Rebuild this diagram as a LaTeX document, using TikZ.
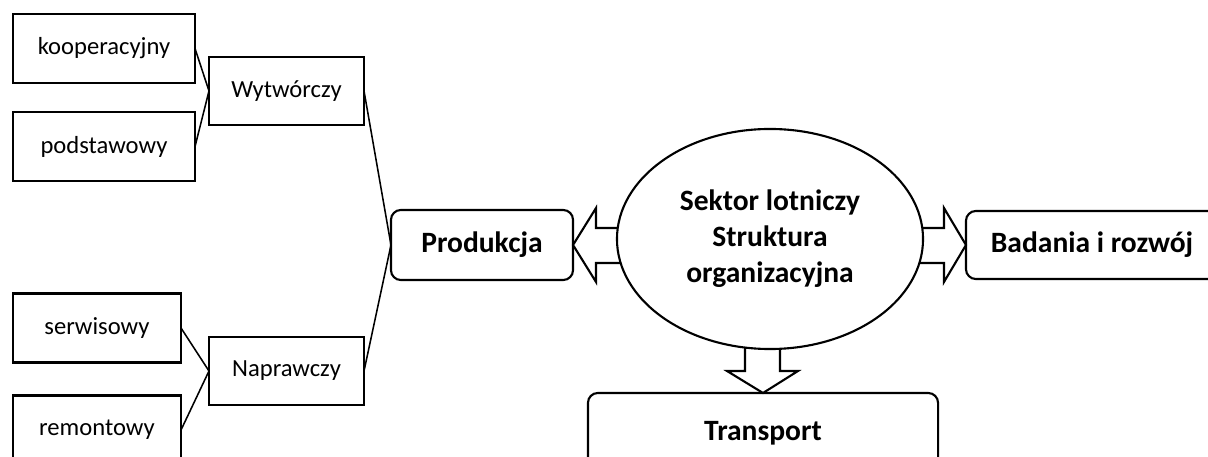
\documentclass[tikz,border=0pt]{standalone}
\usepackage{fontspec}
\setmainfont{Carlito}
\usetikzlibrary{positioning, arrows, shapes.geometric}
\tikzset{
leaf/.style={
  draw, 
  rectangle, 
  line width=1.5pt, outer sep=0pt,
  minimum height=1.725cm, 
  minimum width=4.55cm, align=center,
  font=\fontsize{17.5}{21}\selectfont
  }, 
mid/.style={leaf, minimum width=3.875cm, minimum height=1.7cm},
sector/.style={
  draw, rounded corners=7pt,
  line width=1.5pt, outer sep=0pt,
  minimum height=1.75cm, align=center,
  font=\fontsize{21}{25.6}\selectfont\bfseries
  },
core/.style={
  draw, ellipse, fill=white,
  line width=1.5pt, inner sep=0pt,
  minimum width=7.65cm, minimum height=5.5cm, align=center,
  font=\fontsize{21}{25.6}\selectfont\bfseries
  },
link/.style={line width=1.1pt},
bigarrow/.style={draw, fill=white, line width=1.5pt, line join=miter}
}
\begin{document}
\begin{tikzpicture}[x=0.025cm, y=-0.025cm]
\clip (0,0) rectangle (1208,457);
\node[leaf] (koop) at (104,48.5) {kooperacyjny};
\node[leaf] (podst) at (104,146.5) {podstawowy};
\node[mid] (wyt) at (286.5,91) {Wytwórczy};
\node[leaf, minimum width=4.2cm] (serw) at (97,328) {serwisowy};
\node[leaf, minimum width=4.2cm] (rem) at (97,430) {remontowy};
\node[mid] (napr) at (286.5,371) {Naprawczy};
\node[sector, minimum width=4.55cm] (prod) at (482,245) {Produkcja};
\node[sector, minimum width=6.3cm, minimum height=1.7cm] (bad) at (1092,245) {Badania i rozwój};
\node[sector, minimum width=8.75cm, minimum height=2cm] (trans) at (763,433) {Transport};
\draw[link] (koop.east) -- (wyt.west);
\draw[link] (podst.east) -- (wyt.west);
\draw[link] (serw.east) -- (napr.west);
\draw[link] (rem.east) -- (napr.west);
\draw[link] (wyt.east) -- (prod.west);
\draw[link] (napr.east) -- (prod.west);
% strzalki
\draw[bigarrow] (prod.east) -- ++(23,-37) -- ++(0,20) -- ++(50,0) -- ++(0,35)
  -- ++(-50,0) -- ++(0,19) -- cycle;
\draw[bigarrow] (bad.west) -- ++(-22,-37) -- ++(0,20) -- ++(-50,0) -- ++(0,35)
  -- ++(50,0) -- ++(0,19) -- cycle;
\draw[bigarrow] (trans.north) -- ++(-36,-22) -- ++(18,0) -- ++(0,-45) -- ++(35,0)
  -- ++(0,45) -- ++(18,0) -- cycle;
\node[core] (ell) at (770,239) {Sektor lotniczy\\Struktura\\organizacyjna};
\end{tikzpicture}
\end{document}
